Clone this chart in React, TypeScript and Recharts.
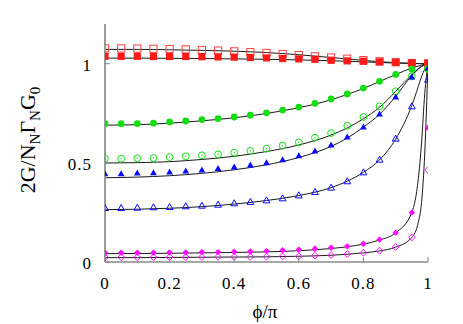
import React from "react";
import { ComposedChart, XAxis, YAxis, Scatter, Line } from "recharts";

// Marker abscissae (phi/pi)
const PHI = [0, 0.05, 0.1, 0.15, 0.2, 0.25, 0.3, 0.35, 0.4, 0.45, 0.5, 0.55, 0.6, 0.65, 0.7, 0.75, 0.8, 0.85, 0.9, 0.95, 1];
// Abscissae of the black fitted curves
const FIT_PHI = [0, 0.1, 0.2, 0.3, 0.4, 0.5, 0.6, 0.7, 0.75, 0.8, 0.85, 0.9, 0.95, 0.97, 0.98, 0.99, 1];

const X_TICKS = [0, 0.2, 0.4, 0.6, 0.8, 1];
const Y_TICKS = [0, 0.5, 1];

// Marker series
const redOpen = [1.077, 1.077, 1.076, 1.075, 1.074, 1.072, 1.069, 1.066, 1.062, 1.058, 1.054, 1.049, 1.043, 1.037, 1.031, 1.025, 1.018, 1.012, 1.007, 1.003, 1.001];
const redFilled = [1.037, 1.037, 1.037, 1.036, 1.036, 1.036, 1.035, 1.034, 1.033, 1.031, 1.029, 1.026, 1.024, 1.022, 1.017, 1.014, 1.012, 1.009, 1.007, 1.005, 1.003];
const greenFilled = [0.697, 0.697, 0.698, 0.7, 0.706, 0.711, 0.718, 0.723, 0.731, 0.74, 0.752, 0.766, 0.781, 0.8, 0.822, 0.847, 0.877, 0.911, 0.946, 0.972, 0.972];
const greenOpen = [0.521, 0.521, 0.523, 0.524, 0.529, 0.533, 0.538, 0.543, 0.551, 0.56, 0.571, 0.587, 0.603, 0.627, 0.65, 0.687, 0.731, 0.785, 0.861, 0.936, 0.975];
const blueFilled = [0.445, 0.445, 0.449, 0.45, 0.454, 0.459, 0.464, 0.471, 0.479, 0.489, 0.501, 0.516, 0.536, 0.56, 0.59, 0.63, 0.681, 0.746, 0.832, 0.933, 0.978];
const blueOpen = [0.272, 0.272, 0.274, 0.276, 0.277, 0.281, 0.284, 0.289, 0.296, 0.303, 0.311, 0.321, 0.336, 0.353, 0.375, 0.407, 0.452, 0.516, 0.622, 0.785, 0.919];
const magentaFilled = [0.047, 0.047, 0.047, 0.047, 0.048, 0.048, 0.05, 0.05, 0.052, 0.053, 0.055, 0.059, 0.062, 0.067, 0.072, 0.079, 0.092, 0.113, 0.148, 0.249, 0.677];
const magentaOpen = [0.024, 0.024, 0.024, 0.024, 0.025, 0.025, 0.025, 0.026, 0.026, 0.026, 0.027, 0.028, 0.029, 0.032, 0.035, 0.04, 0.047, 0.057, 0.076, 0.124, 0.464];

// Fitted curves
const redOpenFit = [1.072, 1.072, 1.07, 1.067, 1.063, 1.056, 1.045, 1.031, 1.024, 1.016, 1.01, 1.005, 1.002, 1.001, 1.0, 1.0, 1.0];
const redFilledFit = [1.028, 1.028, 1.027, 1.026, 1.024, 1.022, 1.019, 1.015, 1.012, 1.009, 1.006, 1.003, 1.001, 1.0, 1.0, 1.0, 1.0];
const greenFilledFit = [0.69, 0.692, 0.7, 0.712, 0.727, 0.749, 0.778, 0.818, 0.845, 0.875, 0.91, 0.945, 0.978, 0.988, 0.993, 0.997, 1.0];
const greenOpenFit = [0.499, 0.501, 0.506, 0.517, 0.533, 0.557, 0.59, 0.64, 0.676, 0.722, 0.78, 0.86, 0.945, 0.975, 0.987, 0.995, 1.0];
const blueFilledFit = [0.425, 0.428, 0.435, 0.447, 0.465, 0.49, 0.527, 0.583, 0.625, 0.68, 0.745, 0.835, 0.94, 0.972, 0.985, 0.994, 1.0];
const blueOpenFit = [0.264, 0.266, 0.271, 0.279, 0.292, 0.31, 0.335, 0.375, 0.407, 0.452, 0.515, 0.62, 0.79, 0.885, 0.935, 0.972, 1.0];
const magentaFilledFit = [0.042, 0.043, 0.044, 0.046, 0.048, 0.051, 0.057, 0.068, 0.077, 0.09, 0.111, 0.147, 0.25, 0.42, 0.6, 0.85, 1.0];
const magentaOpenFit = [0.022, 0.022, 0.023, 0.024, 0.025, 0.026, 0.029, 0.034, 0.039, 0.046, 0.056, 0.075, 0.124, 0.2, 0.3, 0.55, 1.0];

const pts = (xs: number[], ys: number[]) => xs.map((x, i) => ({ x, y: ys[i] }));

const RED = "#ff1a1a";
const RED_OPEN = "#ff4040";
const GREEN = "#14dd14";
const BLUE = "#0a0aff";
const MAGENTA = "#ff10ff";
const FONT = "Liberation Serif, Times New Roman, serif";

const OpenSquare = (p: any) => (
  <rect x={p.cx - 3.6} y={p.cy - 3.6} width={7.2} height={7.2} fill="none" stroke={RED_OPEN} strokeWidth={1} />
);
const FilledSquare = (p: any) => (
  <rect x={p.cx - 3.6} y={p.cy - 3.6} width={7.2} height={7.2} fill={RED} />
);
const FilledCircle = (p: any) => <circle cx={p.cx} cy={p.cy} r={3.4} fill={GREEN} />;
const OpenCircle = (p: any) => (
  <g>
    <circle cx={p.cx} cy={p.cy} r={3.4} fill="none" stroke={GREEN} strokeWidth={1} />
    <circle cx={p.cx} cy={p.cy} r={0.7} fill={GREEN} />
  </g>
);
const triPath = (cx: number, cy: number) =>
  `M${cx},${cy - 3.5} L${cx + 3.4},${cy + 2.5} L${cx - 3.4},${cy + 2.5} Z`;
const FilledTri = (p: any) => <path d={triPath(p.cx, p.cy)} fill={BLUE} />;
const OpenTri = (p: any) => <path d={triPath(p.cx, p.cy)} fill="none" stroke={BLUE} strokeWidth={1} />;
const diaPath = (cx: number, cy: number, r: number) =>
  `M${cx},${cy - r} L${cx + r},${cy} L${cx},${cy + r} L${cx - r},${cy} Z`;
const FilledDia = (p: any) => (
  <g>
    <path d={diaPath(p.cx, p.cy, 3.2)} fill={MAGENTA} />
    <circle cx={p.cx} cy={p.cy} r={2.2} fill={MAGENTA} />
  </g>
);
const OpenDia = (p: any) => <path d={diaPath(p.cx, p.cy, 3.4)} fill="none" stroke={MAGENTA} strokeWidth={1} />;

const renderXTick = (p: any) => {
  const { x, y, payload } = p;
  return (
    <g key={`xt-${payload.value}`}>
      <line x1={x} y1={y} x2={x} y2={y - 5} stroke="#888" strokeWidth={1} />
      <text
        x={x}
        y={y + 27}
        textAnchor="middle"
        fontFamily={FONT}
        fontSize={17}
        letterSpacing={1}
        fill="#000"
      >
        {String(payload.value)}
      </text>
    </g>
  );
};

const renderYTick = (p: any) => {
  const { x, y, payload } = p;
  return (
    <g key={`yt-${payload.value}`}>
      <line x1={x} y1={y} x2={x + 5} y2={y} stroke="#888" strokeWidth={1} />
      <text
        x={x - 13}
        y={y + 7}
        textAnchor="end"
        fontFamily={FONT}
        fontSize={17}
        letterSpacing={1}
        fill="#000"
      >
        {String(payload.value)}
      </text>
    </g>
  );
};

const LINE = "#1a1a1a";

export default function App() {
  return (
    <div style={{ position: "absolute", left: 0, top: 0, width: 463, height: 324, background: "#fff" }}>
      <ComposedChart width={463} height={324} margin={{ top: 24, right: 35, left: 0, bottom: 0 }}>
        <XAxis
          dataKey="x"
          type="number"
          domain={[0, 1]}
          ticks={X_TICKS}
          height={62}
          tickSize={0}
          tickMargin={0}
          tickLine={false}
          axisLine={{ stroke: "#8a8a8a", strokeWidth: 1.5 }}
          tick={renderXTick}
          allowDataOverflow
        />
        <XAxis
          xAxisId="top"
          orientation="top"
          type="number"
          domain={[0, 1]}
          height={0}
          tick={false}
          tickLine={false}
          axisLine={{ stroke: "#3a3a3a", strokeWidth: 1 }}
        />
        <YAxis
          type="number"
          domain={[0, 1.2]}
          ticks={Y_TICKS}
          width={105}
          tickSize={0}
          tickMargin={0}
          tickLine={false}
          axisLine={{ stroke: "#9a9a9a", strokeWidth: 2 }}
          tick={renderYTick}
          allowDataOverflow
        />
        <YAxis
          yAxisId="right"
          orientation="right"
          type="number"
          domain={[0, 1.2]}
          width={0}
          tick={false}
          tickLine={false}
          axisLine={{ stroke: "#9a9a9a", strokeWidth: 1.5 }}
        />

        <Scatter data={pts(PHI, redOpen)} dataKey="y" shape={OpenSquare} isAnimationActive={false} />
        <Scatter data={pts(PHI, redFilled)} dataKey="y" shape={FilledSquare} isAnimationActive={false} />
        <Scatter data={pts(PHI, greenFilled)} dataKey="y" shape={FilledCircle} isAnimationActive={false} />
        <Scatter data={pts(PHI, greenOpen)} dataKey="y" shape={OpenCircle} isAnimationActive={false} />
        <Scatter data={pts(PHI, blueFilled)} dataKey="y" shape={FilledTri} isAnimationActive={false} />
        <Scatter data={pts(PHI, blueOpen)} dataKey="y" shape={OpenTri} isAnimationActive={false} />
        <Scatter data={pts(PHI, magentaFilled)} dataKey="y" shape={FilledDia} isAnimationActive={false} />
        <Scatter data={pts(PHI, magentaOpen)} dataKey="y" shape={OpenDia} isAnimationActive={false} />

        {[redOpenFit, redFilledFit, greenFilledFit, greenOpenFit, blueFilledFit, blueOpenFit, magentaFilledFit, magentaOpenFit].map(
          (fit, i) => (
            <Line
              key={i}
              data={pts(FIT_PHI, fit)}
              dataKey="y"
              type="monotone"
              stroke={LINE}
              strokeWidth={1}
              dot={false}
              activeDot={false}
              isAnimationActive={false}
            />
          )
        )}
      </ComposedChart>
      <svg width={463} height={324} style={{ position: "absolute", left: 0, top: 0, pointerEvents: "none" }}>
        <text
          transform="translate(35,140) rotate(-90)"
          textAnchor="middle"
          fontFamily={FONT}
          fontSize={22}
          fill="#000"
        >
          2G/N
          <tspan fontSize={15} dy={5}>N</tspan>
          <tspan dy={-5}>Γ</tspan>
          <tspan fontSize={15} dy={5}>N</tspan>
          <tspan dy={-5}>G</tspan>
          <tspan fontSize={15} dy={5}>0</tspan>
        </text>
        <text x={265} y={318} textAnchor="middle" fontFamily={FONT} fontSize={19} fill="#000">
          ϕ/π
        </text>
      </svg>
    </div>
  );
}
